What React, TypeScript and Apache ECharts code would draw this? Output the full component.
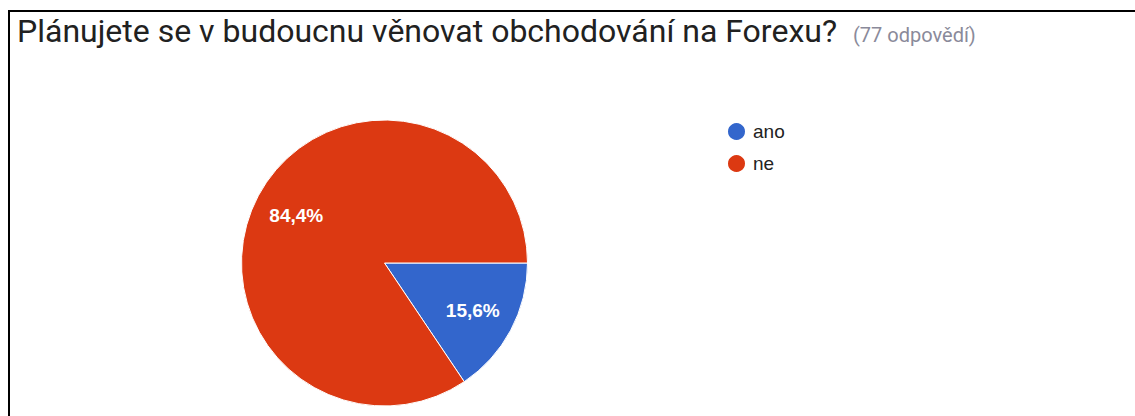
import React, { useEffect, useRef } from "react";
import * as echarts from "echarts";

const titleText = "Plánujete se v budoucnu věnovat obchodování na Forexu?";
const responsesText = "(77 odpovědí)";
const categories = ["ano", "ne"];
const counts = [12, 65];
const colors = ["#3366cc", "#dc3912"];

export default function App() {
  const ref = useRef<HTMLDivElement>(null);
  useEffect(() => {
    if (!ref.current) return;
    const chart = echarts.init(ref.current, null, { renderer: "svg" });
    const data = categories.map((name, i) => ({ name, value: counts[i] }));
    const center = [384.5, 263];
    const fmt = (p: any) => p.percent.toFixed(1).replace(".", ",") + "%";
    chart.setOption({
      animation: false,
      backgroundColor: "#ffffff",
      color: colors,
      title: [
        {
          text: titleText,
          left: 17,
          top: 15,
          padding: 0,
          textStyle: { fontFamily: "Roboto", fontSize: 32, fontWeight: "normal", color: "#212121" },
        },
        {
          text: responsesText,
          left: 853,
          top: 25,
          padding: 0,
          textStyle: { fontFamily: "Roboto", fontSize: 20, fontWeight: "normal", color: "#8a8a9a" },
        },
      ],
      legend: {
        orient: "vertical",
        left: 726,
        top: 121,
        icon: "circle",
        itemWidth: 19,
        itemHeight: 19,
        itemGap: 11,
        padding: 0,
        data: categories,
        textStyle: { fontFamily: "Liberation Sans", fontSize: 19, color: "#222222", padding: [0, 0, 0, 2] },
        selectedMode: false,
      },
      graphic: [
        {
          type: "polyline",
          shape: { points: [[9, 416], [9, 11], [1135, 11]] },
          style: { stroke: "#000000", lineWidth: 2, fill: "none" },
          silent: true,
        },
      ],
      series: [
        {
          type: "pie",
          center,
          radius: [0, 143],
          startAngle: 0,
          clockwise: true,
          data,
          label: { show: false },
          labelLine: { show: false },
          itemStyle: { borderColor: "#ffffff", borderWidth: 1 },
          emphasis: { disabled: true },
          silent: true,
        },
        {
          type: "pie",
          center,
          radius: [51, 143],
          startAngle: 0,
          clockwise: true,
          data,
          percentPrecision: 1,
          itemStyle: { color: "rgba(0,0,0,0)" },
          label: {
            show: true,
            position: "inside",
            formatter: fmt,
            color: "#ffffff",
            fontFamily: "Liberation Sans",
            fontSize: 19,
            fontWeight: "bold",
          },
          labelLine: { show: false },
          emphasis: { disabled: true },
          silent: true,
          z: 3,
        },
      ],
    });
    return () => chart.dispose();
  }, []);
  return (
    <div
      ref={ref}
      style={{ position: "absolute", left: 0, top: 0, width: 1135, height: 416 }}
    />
  );
}
